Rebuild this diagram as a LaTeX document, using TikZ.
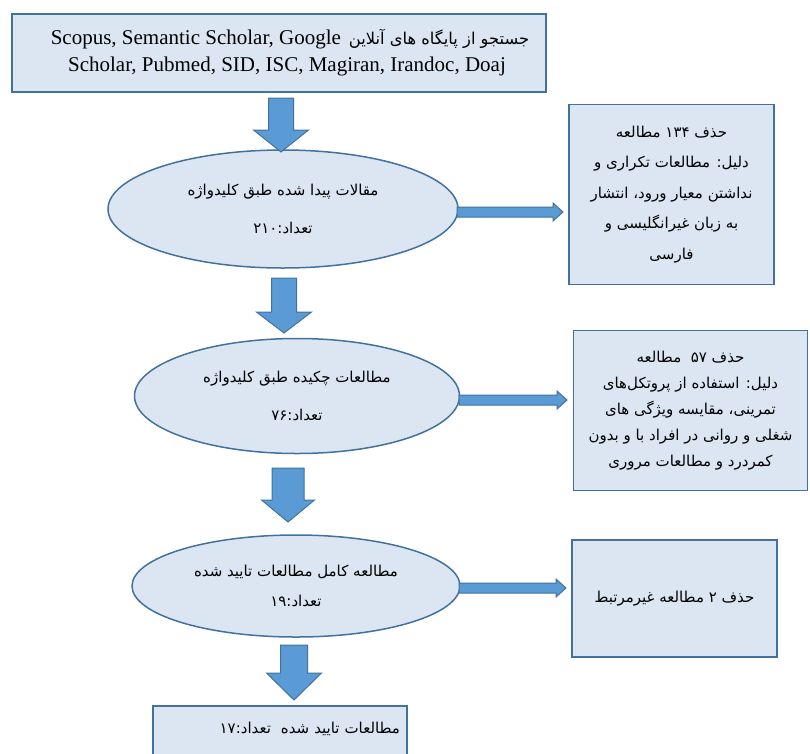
\documentclass[tikz,border=0pt]{standalone}
\usepackage{fontspec}
\setmainfont{Liberation Serif}
\newfontfamily\fa[Script=Arabic]{DejaVu Sans}
\TeXXeTstate=1
\usetikzlibrary{shapes.geometric,calc}
\definecolor{boxfill}{HTML}{DCE6F2}
\definecolor{boxline}{HTML}{41719C}
\definecolor{arrowfill}{HTML}{5B9BD5}
\newcommand{\R}[1]{\beginR #1\endR}
\newcommand{\vblockarrow}[5]{%
  \path[blockarrow] let \p1=(#1), \p2=(#2) in
   (\x1-#3,\y1) -- (\x1+#3,\y1) -- (\x1+#3,\y2+#5) -- (\x1+#4,\y2+#5) -- (\x1,\y2)
   -- (\x1-#4,\y2+#5) -- (\x1-#3,\y2+#5) -- cycle;}
\newcommand{\hblockarrow}[5]{%
  \path[blockarrow] let \p1=(#1), \p2=(#2) in
   (\x1,\y1+#3) -- (\x2-#5,\y1+#3) -- (\x2-#5,\y1+#4) -- (\x2,\y1)
   -- (\x2-#5,\y1-#4) -- (\x2-#5,\y1-#3) -- (\x1,\y1-#3) -- cycle;}
\tikzset{
  base/.style={draw=boxline, fill=boxfill, line width=1.5pt, inner sep=0pt},
  rectbox/.style={base, rectangle, align=center, font={\fa\fontsize{15}{30.5}\selectfont}},
  ellbox/.style={base, ellipse, align=center, font={\fa\fontsize{15}{38}\selectfont}},
  blockarrow/.style={fill=arrowfill, draw=boxline, line width=1pt, line join=miter},
}
\begin{document}
\begin{tikzpicture}[x=1pt,y=-1pt]
\useasboundingbox (0,0) rectangle (810,753);
\clip (0,0) rectangle (810,753);

\node[base, rectangle, align=center, minimum width=534pt, minimum height=78pt,
      font={\fontsize{21}{27}\selectfont}] (top) at (279,53)
  {\hspace*{22pt}Scopus, Semantic Scholar, Google\hspace{8pt}{\fa\fontsize{16.3}{14}\selectfont\R{جستجو از پایگاه های آنلاین}}\\
   \hspace*{16pt}Scholar, Pubmed, SID, ISC, Magiran, Irandoc, Doaj};

\node[ellbox, minimum width=350pt, minimum height=118pt] (e1) at (283,209)
  {\R{مقالات پیدا شده طبق کلیدواژه}\\ \R{تعداد:۲۱۰}};
\node[rectbox, minimum width=205pt, minimum height=180pt] (b1) at (671.5,194.5)
  {\R{حذف ۱۳۴ مطالعه}\\ \R{دلیل: مطالعات تکراری و}\\ \R{نداشتن معیار ورود، انتشار}\\
   \R{به زبان غیرانگلیسی و}\\ \R{فارسی}};

\node[ellbox, minimum width=325pt, minimum height=115pt] (e2) at (297,396)
  {\R{مطالعات چکیده طبق کلیدواژه}\\ \R{تعداد:۷۶}};
\node[rectbox, minimum width=234pt, minimum height=160pt,
      font={\fa\fontsize{15}{26}\selectfont}] (b2) at (690.5,410.5)
  {\R{حذف ۵۷~ مطالعه}\\ \R{دلیل: استفاده از پروتکل‌های}\\ \R{تمرینی، مقایسه ویژگی های}\\
   \R{شغلی و روانی در افراد با و بدون}\\ \R{کمردرد و مطالعات مروری}};

\node[ellbox, minimum width=328pt, minimum height=102pt,
      font={\fa\fontsize{15}{30}\selectfont}] (e3) at (296,586)
  {\R{مطالعه کامل مطالعات تایید شده}\\ \R{تعداد:۱۹}};
\node[rectbox, minimum width=205pt, minimum height=117pt] (b3) at (674.5,598.5)
  {\R{حذف ۲ مطالعه غیرمرتبط}};

\node[base, rectangle, align=right, anchor=north, text width=240pt, inner xsep=7pt,
      inner ysep=11pt, text height=17pt, text depth=60pt,
      font={\fa\fontsize{15}{18}\selectfont}] (b4) at (280,705)
  {\R{مطالعات تایید شده~ تعداد:۱۷}};

% vertical block arrows
\coordinate (a1s) at (281,98);  \coordinate (a1e) at (281,152);
\coordinate (a2s) at (284,278); \coordinate (a2e) at (284,333);
\coordinate (a3s) at (288,468); \coordinate (a3e) at (288,522);
\coordinate (a4s) at (294,645); \coordinate (a4e) at (294,700);
\vblockarrow{a1s}{a1e}{12.5pt}{27.5pt}{22pt}
\vblockarrow{a2s}{a2e}{12.5pt}{27.5pt}{21pt}
\vblockarrow{a3s}{a3e}{16pt}{26.5pt}{22pt}
\vblockarrow{a4s}{a4e}{13.5pt}{27.5pt}{27pt}

% horizontal arrows
\coordinate (h1s) at (457,212); \coordinate (h1e) at (563,212);
\coordinate (h2s) at (459,400); \coordinate (h2e) at (567,400);
\coordinate (h3s) at (459,588); \coordinate (h3e) at (566,588);
\hblockarrow{h1s}{h1e}{5pt}{9pt}{10pt}
\hblockarrow{h2s}{h2e}{5pt}{9pt}{10pt}
\hblockarrow{h3s}{h3e}{5pt}{9pt}{10pt}
\end{tikzpicture}
\end{document}
